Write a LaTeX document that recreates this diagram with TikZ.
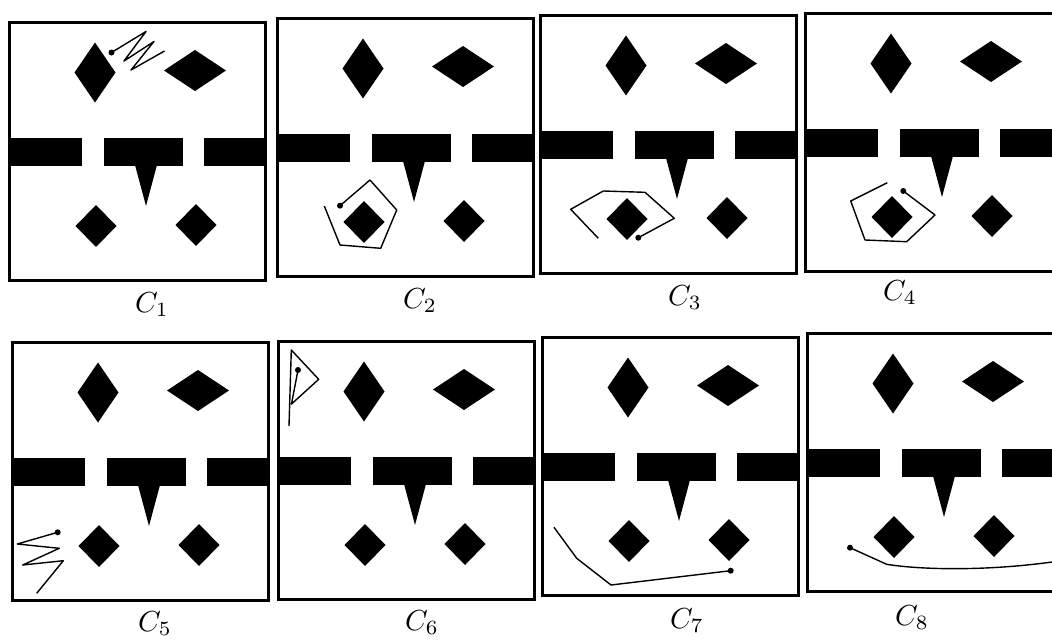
\documentclass[tikz,border=0pt]{standalone}
\usetikzlibrary{positioning}
\tikzset{
  room/.style={draw=black, line width=3pt},
  blk/.style={fill=black},
  trail/.style={draw=black, line width=1.4pt, line join=round},
  enddot/.style={circle, fill=black, inner sep=0pt, minimum size=6pt},
  lbl/.style={scale=2.9, inner sep=0pt, anchor=base},
}
% filled rhombus: centre x, centre y, half width, half height
\newcommand{\rhomb}[4]{\fill[blk] (#1,#2) +(0,-#4) -- +(#3,0) -- +(0,#4) -- +(-#3,0) -- cycle;}

\begin{document}
\begin{tikzpicture}[x=1pt, y=-1pt]
  \useasboundingbox (0,0) rectangle (1052,640);
  \clip (0,0) rectangle (1052,640);

  % the eight configurations, same obstacles in each
  \foreach \px/\py/\k/\lx/\ly in {9/22/1/152/312, 277/18/2/420/308, 540/15/3/685/305, 805/13/4/900/300,
                                  12/342/5/155/631, 278/341/6/422/630, 542/337/7/687/628, 807/333/8/912/625} {
    \begin{scope}[shift={(\px,\py)}]
      \rhomb{86}{50.5}{20.5}{30}
      \rhomb{186}{48.5}{31}{20.5}
      \fill[blk] (0,116) rectangle (73,144);
      \fill[blk] (95,116) rectangle (174,144);
      \fill[blk] (195,116) rectangle (256,144);
      \fill[blk] (126,143) -- (148,143) -- (137,184) -- cycle;
      \rhomb{87}{204}{20.5}{21}
      \rhomb{187}{203}{20.5}{21}
      \draw[room] (0,0) rectangle (256,258);
    \end{scope}
    \node[lbl] (c\k) at (\lx,\ly) {$C_{\k}$};
  }

  % C1
  \begin{scope}[shift={(9,22)}]
    \node[enddot] (s1) at (102.5,30.5) {};
    \draw[trail] (s1.center) -- (137,9.5) -- (115,39) -- (145,19.5) -- (122,48) -- (155.5,29);
  \end{scope}
  % C2
  \begin{scope}[shift={(277,18)}]
    \node[enddot] (s2) at (63,187.7) {};
    \draw[trail] (s2.center) -- (93,162) -- (119.7,192) -- (103.7,230.3) -- (63,227) -- (47.3,188);
  \end{scope}
  % C3
  \begin{scope}[shift={(540,15)}]
    \node[enddot] (s3) at (98.3,222.7) {};
    \draw[trail] (s3.center) -- (134.3,203.3) -- (105,177.3) -- (63.3,176) -- (30.7,194.3) -- (58.3,223.3);
  \end{scope}
  % C4
  \begin{scope}[shift={(805,13)}]
    \node[enddot] (s4) at (98.3,178) {};
    \draw[trail] (s4.center) -- (130,202) -- (101.7,228.7) -- (60,227) -- (45.7,188) -- (82.3,169.7);
  \end{scope}
  % C5
  \begin{scope}[shift={(12,342)}]
    \node[enddot] (s5) at (45.7,190.3) {};
    \draw[trail] (s5.center) -- (5.3,202) -- (47.3,206.3) -- (10.7,223) -- (51.3,218.7) -- (24.7,251.3);
  \end{scope}
  % C6
  \begin{scope}[shift={(278,341)}]
    \node[enddot] (s6) at (20,29) {};
    \draw[trail] (s6.center) -- (13.5,63) -- (40.7,38.3) -- (13.3,9) -- (11,85);
  \end{scope}
  % C7
  \begin{scope}[shift={(542,337)}]
    \node[enddot] (s7) at (188.7,233.7) {};
    \draw[trail] (s7.center) -- (69,248) -- (34.7,221.3) -- (12,190.3);
  \end{scope}
  % C8
  \begin{scope}[shift={(807,333)}]
    \node[enddot] (s8) at (43,214.7) {};
    \draw[trail] (s8.center) -- (79.7,231.3) .. controls (115,237) and (180,238) .. (245,229);
  \end{scope}
\end{tikzpicture}
\end{document}
